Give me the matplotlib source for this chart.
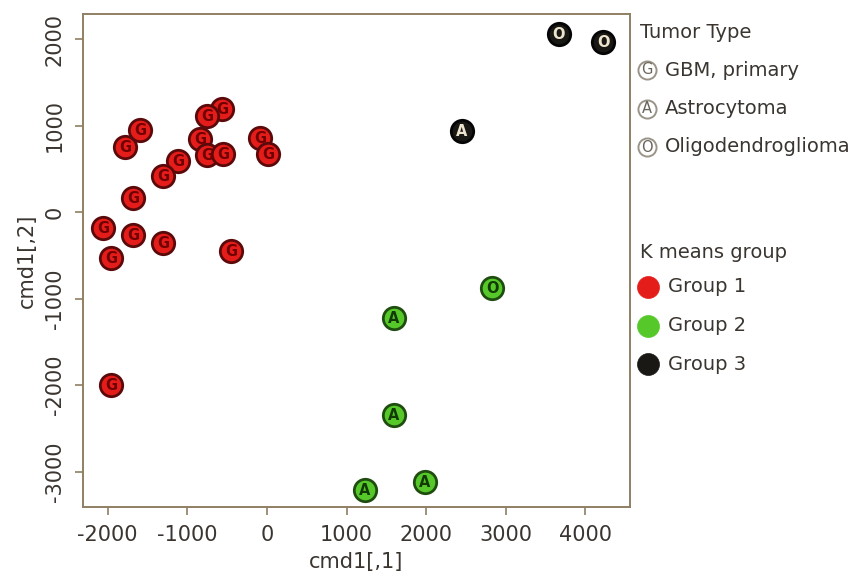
import matplotlib.pyplot as plt

plt.rcParams["axes.unicode_minus"] = False

# classical MDS coordinates
cmd_x = [-1784, -1595, -565, -754, -842, -754, -553, -88, 13, -1118, -1307, -1683,
         -2060, -1683, -1307, -1960, -452, -1960,
         2827, 1595, 1595, 1231, 1985,
         3668, 4221, 2450]
cmd_y = [751, 948, 1191, 1110, 844, 659, 671, 855, 671, 590, 416, 162,
         -185, -266, -358, -532, -451, -2000,
         -879, -1225, -2347, -3214, -3121,
         2058, 1965, 936]
tumor = ["G"] * 18 + ["O", "A", "A", "A", "A"] + ["O", "O", "A"]
group = [1] * 18 + [2] * 5 + [3] * 3

tumor_names = ["GBM, primary", "Astrocytoma", "Oligodendroglioma"]
tumor_letters = ["G", "A", "O"]
group_names = ["Group 1", "Group 2", "Group 3"]

fill = {1: "#e41c1a", 2: "#56c82a", 3: "#1a1814"}
edge = {1: "#5a0a0a", 2: "#1f4d10", 3: "#050505"}
letter_col = {1: "#700000", 2: "#123a05", 3: "#ece4cc"}

frame_col = "#8f7f64"
text_col = "#3a3530"

fig = plt.figure(figsize=(8.6, 5.81), dpi=100)
ax = fig.add_axes([83 / 860, 1 - 507 / 581, (630 - 83) / 860, (507 - 14) / 581])

for xi, yi, t, g in zip(cmd_x, cmd_y, tumor, group):
    ax.scatter(xi, yi, s=260, c=fill[g], edgecolors=edge[g], linewidths=2, zorder=3)
    ax.text(xi, yi, t, color=letter_col[g], fontsize=10.5, fontweight="bold",
            ha="center", va="center", zorder=4)

ax.set_xlim(-2310, 4560)
ax.set_ylim(-3410, 2290)
ax.set_xticks([-2000, -1000, 0, 1000, 2000, 3000, 4000])
ax.set_yticks([-3000, -2000, -1000, 0, 1000, 2000])
ax.set_yticklabels(["-3000", "-2000", "-1000", "0", "1000", "2000"], rotation=90, va="center")
ax.tick_params(direction="out", length=6, width=1.2, color=frame_col,
               labelcolor=text_col, labelsize=15, pad=7)
for sp in ax.spines.values():
    sp.set_color(frame_col)
    sp.set_linewidth(1.4)
ax.set_xlabel("cmd1[,1]", fontsize=15, color=text_col, labelpad=5)
ax.set_ylabel("cmd1[,2]", fontsize=15, color=text_col, labelpad=6)

# legend panel on the right, laid out in pixel units
lg = fig.add_axes([630 / 860, 0, 230 / 860, 1])
lg.set_xlim(630, 860)
lg.set_ylim(581, 0)
lg.axis("off")

lg.text(640, 32, "Tumor Type", fontsize=14, color=text_col, va="center")
for i, (name, let) in enumerate(zip(tumor_names, tumor_letters)):
    yy = 70 + i * 38.5
    lg.scatter(647, yy, s=170, facecolors="white", edgecolors="#9a9488", linewidths=1.4)
    lg.text(647, yy, let, fontsize=10.5, color="#6a655c", ha="center", va="center")
    lg.text(665, yy, name, fontsize=14, color=text_col, va="center")

lg.text(640, 252, "K means group", fontsize=14, color=text_col, va="center")
for i, name in enumerate(group_names):
    yy = 287 + i * 38.5
    lg.scatter(648, yy, s=250, c=fill[i + 1], edgecolors=fill[i + 1], linewidths=0.5)
    lg.text(668, yy, name, fontsize=14, color=text_col, va="center")

fig.savefig("out.png", dpi=100)
